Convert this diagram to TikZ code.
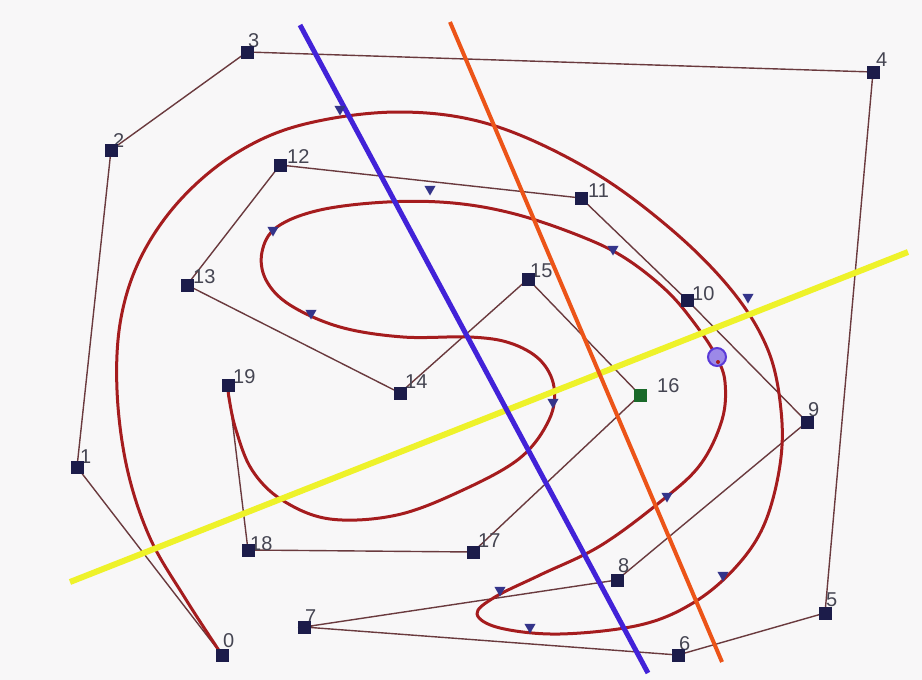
\documentclass[tikz,border=0pt]{standalone}
\usepackage{fontspec}
\setmainfont{Liberation Sans}
\usetikzlibrary{shapes.geometric}
\definecolor{bgc}{HTML}{F8F7F8}
\definecolor{polyc}{HTML}{6A3A3E}
\definecolor{curvec}{HTML}{A51C1E}
\definecolor{ptc}{HTML}{1C1C4A}
\definecolor{ptg}{HTML}{1A6A2A}
\definecolor{labc}{HTML}{454552}
\definecolor{markc}{HTML}{34348A}
\definecolor{bluel}{HTML}{4222D8}
\definecolor{orangel}{HTML}{EC5418}
\definecolor{yellowl}{HTML}{EEF22A}
\definecolor{circc}{HTML}{5A3AD8}
\tikzset{
  ptbox/.style={rectangle, fill=ptc, minimum size=13pt, inner sep=0pt},
  ptgreen/.style={ptbox, fill=ptg},
  lab/.style={anchor=base west, inner sep=0pt, text=labc, font=\fontsize{20}{20}\selectfont},
  poly/.style={draw=polyc, line width=1.4pt},
  curvestyle/.style={draw=curvec, line width=3pt, line join=round},
  tmark/.style={regular polygon, regular polygon sides=3, shape border rotate=180, fill=markc, minimum size=13pt, inner sep=0pt},
  cutline/.style={line width=5pt}
}
\begin{document}
\begin{tikzpicture}[x=1pt,y=-1pt]
\useasboundingbox (0,0) rectangle (922,680);
\fill[bgc] (0,0) rectangle (922,680);

% control points (coordinates first)
\coordinate (c0) at (222,655);
\coordinate (c1) at (77,467);
\coordinate (c2) at (111,150);
\coordinate (c3) at (247,52);
\coordinate (c4) at (873,72);
\coordinate (c5) at (825,613);
\coordinate (c6) at (678,655);
\coordinate (c7) at (304,627);
\coordinate (c8) at (617,580);
\coordinate (c9) at (807,422);
\coordinate (c10) at (687,300);
\coordinate (c11) at (581,198);
\coordinate (c12) at (280,165);
\coordinate (c13) at (187,285);
\coordinate (c14) at (400,393);
\coordinate (c15) at (528,279);
\coordinate (c16) at (640,395);
\coordinate (c17) at (473,552);
\coordinate (c18) at (248,550);
\coordinate (c19) at (228,385);

% control polygon
\draw[poly] (c0) -- (c1) -- (c2) -- (c3) -- (c4) -- (c5) -- (c6) -- (c7) -- (c8) -- (c9) -- (c10) -- (c11) -- (c12) -- (c13) -- (c14) -- (c15) -- (c16) -- (c17) -- (c18) -- (c19);

% labels
\node[lab] (l0) at (223,647) {0};
\node[lab] (l1) at (80,463) {1};
\node[lab] (l2) at (113,147) {2};
\node[lab] (l3) at (248,47) {3};
\node[lab] (l4) at (876,66) {4};
\node[lab] (l5) at (826,606) {5};
\node[lab] (l6) at (679,650) {6};
\node[lab] (l7) at (305,623) {7};
\node[lab] (l8) at (618,572) {8};
\node[lab] (l9) at (808,416) {9};
\node[lab] (l10) at (692,300) {10};
\node[lab] (l11) at (588,197) {11};
\node[lab] (l12) at (287,163) {12};
\node[lab] (l13) at (193,283) {13};
\node[lab] (l14) at (405,388) {14};
\node[lab] (l15) at (530,277) {15};
\node[lab] (l16) at (657,392) {16};
\node[lab] (l17) at (478,547) {17};
\node[lab] (l18) at (250,550) {18};
\node[lab] (l19) at (233,383) {19};

% curve
\draw[curvestyle] plot[smooth, tension=0.6] coordinates {
(222,655) (185,598) (150,538) (127,468) (117,390) (121,318) (142,255)
(182,198) (238,152) (305,124) (400,112) (492,125) (590,170) (672,230)
(733,292) (768,350) (781,410) (780,465) (764,525) (735,568) (693,603)
(640,625) (560,634) (500,628) (477,614) (495,597) (540,575) (600,546)
(660,502) (700,465) (722,420) (725,382) (716,356) (698,328) (668,292)
(625,258) (580,236) (515,214) (453,203) (387,202) (320,210) (277,227) (262,252)
(266,280) (290,305) (340,327) (403,337) (470,337) (510,343) (540,360)
(554,387) (549,420) (520,458) (463,490) (397,515) (330,519) (282,500)
(252,470) (236,430) (229,398) (228,385)};

% cutting lines
\coordinate (ya) at (70,582);
\coordinate (yb) at (908,252);
\coordinate (oa) at (450,22);
\coordinate (ob) at (722,662);
\coordinate (ba) at (300,25);
\coordinate (bb) at (648,673);
\draw[cutline, draw=yellowl, line width=6pt] (ya) -- (yb);
\draw[cutline, draw=orangel, line width=4pt] (oa) -- (ob);
\draw[cutline, draw=bluel] (ba) -- (bb);

% point boxes
\node[ptbox] (p0) at (c0) {};
\node[ptbox] (p1) at (c1) {};
\node[ptbox] (p2) at (c2) {};
\node[ptbox] (p3) at (c3) {};
\node[ptbox] (p4) at (c4) {};
\node[ptbox] (p5) at (c5) {};
\node[ptbox] (p6) at (c6) {};
\node[ptbox] (p7) at (c7) {};
\node[ptbox] (p8) at (c8) {};
\node[ptbox] (p9) at (c9) {};
\node[ptbox] (p10) at (c10) {};
\node[ptbox] (p11) at (c11) {};
\node[ptbox] (p12) at (c12) {};
\node[ptbox] (p13) at (c13) {};
\node[ptbox] (p14) at (c14) {};
\node[ptbox] (p15) at (c15) {};
\node[ptgreen] (p16) at (c16) {};
\node[ptbox] (p17) at (c17) {};
\node[ptbox] (p18) at (c18) {};
\node[ptbox] (p19) at (c19) {};

% direction markers
\node[tmark] (m1) at (340,109) {};
\node[tmark] (m2) at (430,189) {};
\node[tmark] (m3) at (273,230) {};
\node[tmark] (m4) at (311,313) {};
\node[tmark] (m5) at (613,249) {};
\node[tmark] (m6) at (748,297) {};
\node[tmark] (m7) at (553,402) {};
\node[tmark] (m8) at (667,496) {};
\node[tmark] (m9) at (500,590) {};
\node[tmark] (m10) at (530,627) {};
\node[tmark] (m11) at (723,575) {};

% selected point circle
\node[circle, draw=circc, line width=2pt, fill=circc!60, minimum size=18pt, inner sep=0pt] (sel) at (717,357) {};
\fill[curvec] (718,362) circle (2pt);
\end{tikzpicture}
\end{document}
